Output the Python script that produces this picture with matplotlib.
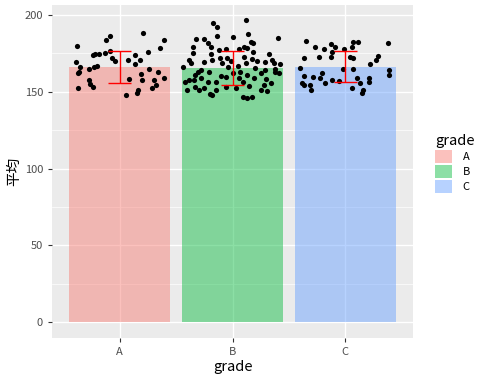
import numpy as np
import matplotlib
matplotlib.use("Agg")
import matplotlib.pyplot as plt
from matplotlib.patches import Patch

plt.rcParams["font.family"] = ["Noto Sans CJK JP", "DejaVu Sans"]

GRADES = ["A", "B", "C"]
COLORS = ["#F8766D", "#00BA38", "#619CFF"]

# bar = mean, error bar = mean +/- sd
MEANS = [165.9, 165.6, 166.4]
ERR_LO = [155.9, 154.6, 156.6]
ERR_HI = [176.6, 176.8, 176.7]

# jittered raw points (offset from category centre, value)
A_OFF = [-0.38, -0.12, -0.09, 0.21, 0.39, 0.36, 0.25, -0.39, -0.35, -0.36, -0.37, -0.37,
         -0.24, -0.22, -0.18, -0.13, -0.09, -0.07, -0.04, -0.23, -0.20, -0.27, -0.27, -0.26,
         -0.24, 0.07, 0.14, 0.18, 0.14, 0.08, 0.19, 0.20, 0.26, 0.34, 0.39, 0.30, 0.32, 0.29,
         0.16, 0.15, 0.06]
A_VAL = [179.8, 183.7, 186.5, 188.5, 183.7, 178.7, 175.7, 169.6, 166.4, 163.1, 162.0, 152.7,
         173.9, 174.4, 174.6, 175.0, 176.5, 171.8, 170.2, 166.4, 166.8, 164.6, 157.7, 155.0,
         153.3, 170.7, 173.9, 170.7, 167.9, 158.1, 161.6, 157.7, 164.8, 163.1, 158.8, 157.7,
         154.4, 152.7, 151.1, 149.0, 147.9]

B_OFF = [-0.17, -0.14, 0.12, -0.14, 0.00, 0.14, 0.40, -0.32, -0.25, -0.22, 0.16, 0.18,
         -0.35, -0.19, -0.12, -0.06, 0.06, 0.10, 0.13, 0.18, -0.35, -0.19, 0.32, -0.39,
         -0.37, -0.25, -0.18, -0.11, -0.09, -0.05, -0.04, 0.10, 0.12, 0.17, 0.29, 0.35,
         0.37, 0.38, 0.38, 0.29, 0.20, -0.31, -0.28, -0.21, -0.33, -0.39, -0.34, -0.28,
         -0.22, -0.15, -0.06, 0.00, 0.07, 0.06, 0.09, 0.13, 0.19, 0.25, 0.28, 0.34,
         -0.33, -0.30, -0.25, -0.15, -0.06, 0.03, 0.25, 0.31, -0.18, 0.09, 0.13, 0.17,
         -0.44, -0.42, -0.40, 0.42, 0.41, 0.05, -0.01, 0.22, 0.30, -0.10, 0.15, -0.20]
B_VAL = [194.6, 192.4, 196.7, 186.3, 185.9, 187.4, 184.8, 184.2, 184.2, 181.6, 182.6, 181.6,
         179.0, 179.4, 177.2, 177.7, 177.7, 179.4, 178.3, 176.1, 175.0, 174.4, 174.6, 170.7,
         168.5, 169.6, 170.7, 171.8, 168.5, 171.8, 166.4, 172.8, 168.5, 171.2, 169.1, 170.7,
         168.5, 164.6, 163.1, 164.2, 165.3, 163.1, 164.2, 163.1, 160.9, 157.7, 157.7, 158.8,
         156.6, 156.6, 159.8, 162.0, 163.1, 158.8, 156.6, 160.9, 158.8, 162.0, 154.4, 155.5,
         153.3, 151.1, 152.2, 151.1, 153.3, 152.2, 151.1, 150.5, 147.9, 146.4, 145.7, 146.4,
         166.1, 156.4, 151.1, 168.1, 162.2, 166.9, 170.2, 169.8, 158.0, 160.5, 153.8, 148.8]

C_OFF = [-0.35, -0.27, -0.19, -0.13, -0.09, -0.12, -0.01, 0.07, 0.11, 0.06, 0.38, -0.37,
         -0.23, -0.13, 0.04, 0.07, 0.29, 0.27, 0.22, -0.40, -0.02, 0.07, 0.39, 0.39,
         -0.37, -0.29, -0.21, -0.22, -0.18, -0.12, -0.06, 0.10, 0.13, 0.21, 0.21, -0.38,
         -0.37, -0.31, -0.30, 0.06, 0.16, 0.15]
C_VAL = [183.3, 179.0, 177.7, 181.1, 179.0, 176.1, 177.7, 182.6, 182.6, 179.4, 181.6, 171.8,
         172.8, 172.8, 172.8, 171.8, 173.3, 170.7, 168.1, 165.3, 164.6, 164.6, 164.2, 160.9,
         160.3, 159.8, 162.4, 158.8, 155.5, 157.7, 157.2, 158.8, 155.9, 158.8, 156.6, 155.9,
         154.4, 154.4, 151.1, 152.2, 151.1, 149.4]

POINTS = [(A_OFF, A_VAL), (B_OFF, B_VAL), (C_OFF, C_VAL)]
ALPHA = 0.45

fig = plt.figure(figsize=(4.8, 3.75), dpi=100)
ax = fig.add_axes([52 / 480, 37 / 375, 361 / 480, 333 / 375])
ax.set_facecolor("#EBEBEB")

x = np.arange(len(GRADES))

# grid (ggplot style)
for v in [25, 75, 125, 175]:
    ax.axhline(v, color="white", lw=0.5, zorder=0)
for v in [0, 50, 100, 150, 200]:
    ax.axhline(v, color="white", lw=1.0, zorder=0)
for xi in x:
    ax.axvline(xi, color="white", lw=1.0, zorder=0)

ax.bar(x, MEANS, width=0.9, color=COLORS, alpha=ALPHA, zorder=1)

for i, (off, val) in enumerate(POINTS):
    ax.scatter(x[i] + np.array(off), val, s=14, color="black", linewidths=0, zorder=2)

ax.vlines(x, ERR_LO, ERR_HI, color="red", lw=1.0, zorder=3)
ax.hlines(ERR_LO, x - 0.1, x + 0.1, color="red", lw=1.0, zorder=3)
ax.hlines(ERR_HI, x - 0.1, x + 0.1, color="red", lw=1.0, zorder=3)

ax.set_xlim(-0.6, 2.6)
ax.set_ylim(-10.4, 206.5)
ax.set_xticks(x)
ax.set_xticklabels(GRADES)
ax.set_yticks([0, 50, 100, 150, 200])
ax.tick_params(colors="#333333", labelcolor="#4D4D4D", labelsize=8, length=3, width=0.8)
for s in ax.spines.values():
    s.set_visible(False)

ax.set_xlabel("grade", fontsize=10.5, color="black", labelpad=2)
ax.set_ylabel("平均", fontsize=10.5, color="black", labelpad=2)

handles = [Patch(facecolor=c, alpha=ALPHA, edgecolor="none") for c in COLORS]
leg = fig.legend(handles, GRADES, title="grade", loc="upper left",
                 bbox_to_anchor=(431 / 480, 1 - 130 / 375), frameon=False,
                 fontsize=8, title_fontsize=10.5, handlelength=1.45, handleheight=1.45,
                 handletextpad=1.0, labelspacing=0.15, borderaxespad=0)
leg._legend_box.align = "left"

fig.savefig("out.png", dpi=100)
